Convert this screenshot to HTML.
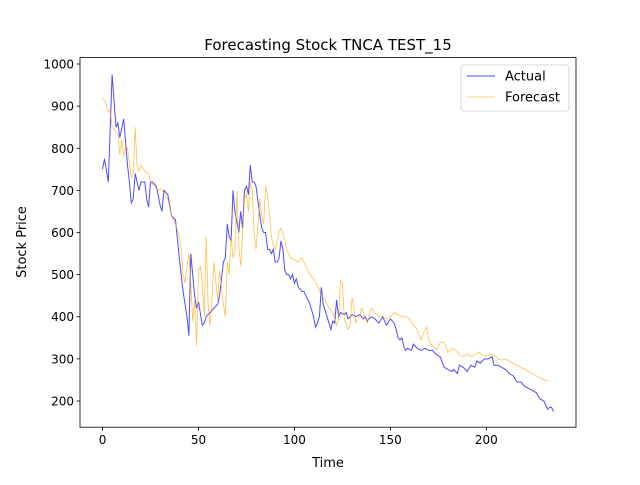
<!DOCTYPE html>
<html><head><meta charset="utf-8"><style>
body{margin:0;background:#fff;}
svg{font-family:"DejaVu Sans","Liberation Sans",sans-serif;}
</style></head><body>
<svg id="chart" width="640" height="480" xmlns="http://www.w3.org/2000/svg">
<rect width="640" height="480" fill="#fff"/>
<text x="328" y="50" font-size="15" text-anchor="middle">Forecasting Stock TNCA TEST_15</text>
<g id="axes"></g>
<g id="series"></g>
<rect x="80" y="57.6" width="496" height="369.6" fill="none" stroke="#000" stroke-width="0.8"/>
<text x="328" y="467" font-size="13" text-anchor="middle">Time</text>
<text x="26" y="242" font-size="13" text-anchor="middle" transform="rotate(-90 26 242)">Stock Price</text>
<g>
<rect x="461" y="65" width="108" height="46" rx="3" fill="#fff" fill-opacity="0.8" stroke="#ccc" stroke-width="0.8"/>
<line x1="467" y1="76" x2="495" y2="76" stroke="blue" stroke-opacity="0.7"/>
<text x="505" y="80.5" font-size="13">Actual</text>
<line x1="467" y1="97" x2="495" y2="97" stroke="orange" stroke-opacity="0.7" stroke-width="0.8"/>
<text x="505" y="101.5" font-size="13">Forecast</text>
</g>
</svg>
<script>
const actualT=[0,1,3,5,7,8,9,11,13,14,15,16,17,19,20,22,23,24,25,26,28,30,31,32,34,36,38,40,42,44,45,46,48,49,50,52,53,54,56,58,60,61,63,64,65,66,67,68,69,71,72,73,74,75,76,77,78,79,80,82,83,84,85,86,87,88,89,90,91,92,93,94,95,96,97,98,99,100,101,102,104,105,107,108,110,111,112,113,114,115,117,119,120,121,122,123,124,126,127,128,130,132,134,136,137,138,140,142,144,146,148,150,152,153,154,155,156,157,158,159,161,162,164,166,168,170,172,174,176,178,180,182,183,185,186,188,190,192,194,195,197,199,201,203,204,206,208,210,212,214,216,218,220,222,224,226,228,230,232,233,234,235];
const actualV=[750,775,720,975,850,860,825,870,760,720,670,680,740,700,720,720,680,660,720,720,710,665,650,700,690,640,630,540,460,400,355,550,450,420,435,380,385,400,410,420,430,450,530,540,620,590,580,700,650,600,650,610,700,710,690,760,720,720,710,640,610,600,600,560,560,550,560,530,530,540,580,560,510,500,500,490,500,480,490,470,460,460,440,430,400,375,385,400,470,430,400,370,390,385,440,400,410,405,410,395,405,400,405,395,400,390,400,395,385,400,380,395,385,370,350,345,350,330,320,325,320,335,325,320,325,320,320,310,305,280,275,270,275,265,285,280,270,285,280,295,290,300,300,305,285,285,280,275,265,260,245,245,235,230,225,220,205,200,180,185,185,175];
const fcT=[0,2,3,4,5,7,8,9,10,11,12,13,15,16,17,18,19,20,22,24,25,27,29,30,32,34,36,38,40,41,42,43,44,45,46,47,48,49,50,51,52,53,54,55,56,57,58,60,61,62,63,64,65,66,67,68,69,70,71,72,73,74,75,76,77,78,79,80,81,82,83,84,85,86,87,88,89,90,91,92,93,94,96,98,100,102,104,106,108,110,112,114,116,118,120,121,122,123,124,125,126,128,129,130,131,132,134,135,136,138,140,142,144,146,148,150,152,154,156,158,160,162,164,166,168,169,170,172,174,176,178,180,182,184,186,188,190,192,194,196,198,200,202,204,206,208,210,212,214,216,218,220,222,224,226,228,230,232,234,235];
const fcV=[920,905,885,890,850,840,835,785,820,780,805,800,730,740,850,760,745,760,745,740,720,710,700,705,695,680,640,620,590,560,500,480,520,550,480,390,440,330,510,520,480,400,590,430,380,440,530,440,510,470,430,400,530,500,590,540,560,700,570,520,600,680,690,650,720,700,600,560,620,680,640,620,710,690,640,590,570,560,580,600,610,600,560,540,535,530,540,520,500,490,475,450,440,420,410,395,380,395,485,480,395,370,380,445,420,385,400,420,410,385,420,410,400,400,395,400,410,405,400,400,395,380,370,345,370,375,345,330,322,338,340,315,325,320,310,305,312,305,310,316,310,305,312,308,300,297,300,295,290,285,280,275,270,265,260,255,250,248];
const xTicks=[0,50,100,150,200];
const yTicks=[200,300,400,500,600,700,800,900,1000];
const NS="http://www.w3.org/2000/svg";
const L=80,R=576,T=57.6,B=427.2,xMin=-11.75,xMax=246.75,yMin=137.8,yMax=1015.2;
const X=v=>L+(v-xMin)/(xMax-xMin)*(R-L);
const Y=v=>B-(v-yMin)/(yMax-yMin)*(B-T);
const axes=document.getElementById('axes'),ser=document.getElementById('series');
function mk(tag,attrs,parent){const e=document.createElementNS(NS,tag);for(const k in attrs)e.setAttribute(k,attrs[k]);parent.appendChild(e);return e;}
xTicks.forEach(t=>{
 const l=mk('line',{x1:X(t),x2:X(t),y1:B,y2:B+3.5,stroke:'#000','stroke-width':0.8},axes);
 
 
 const tx=mk('text',{x:X(t),y:B+17,'font-size':12,'text-anchor':'middle'},axes);
 tx.textContent=t;
 
 
});
yTicks.forEach(t=>{
 const l=mk('line',{x1:L-3.5,x2:L,y1:Y(t),y2:Y(t),stroke:'#000','stroke-width':0.8},axes);
 
 
 const tx=mk('text',{x:L-6,y:Y(t)+4.5,'font-size':12,'text-anchor':'end'},axes);
 tx.textContent=t;
 
 
});
function line(ts,vs){return ts.map((t,i)=>(i?'L':'M')+X(t).toFixed(1)+' '+Y(vs[i]).toFixed(1)).join(' ');}
const pa=mk('path',{d:line(actualT,actualV),fill:'none',stroke:'blue','stroke-opacity':0.7,'stroke-width':1},ser);


const pf=mk('path',{d:line(fcT,fcV),fill:'none',stroke:'orange','stroke-opacity':0.7,'stroke-width':0.8},ser);


</script>
</body></html>
